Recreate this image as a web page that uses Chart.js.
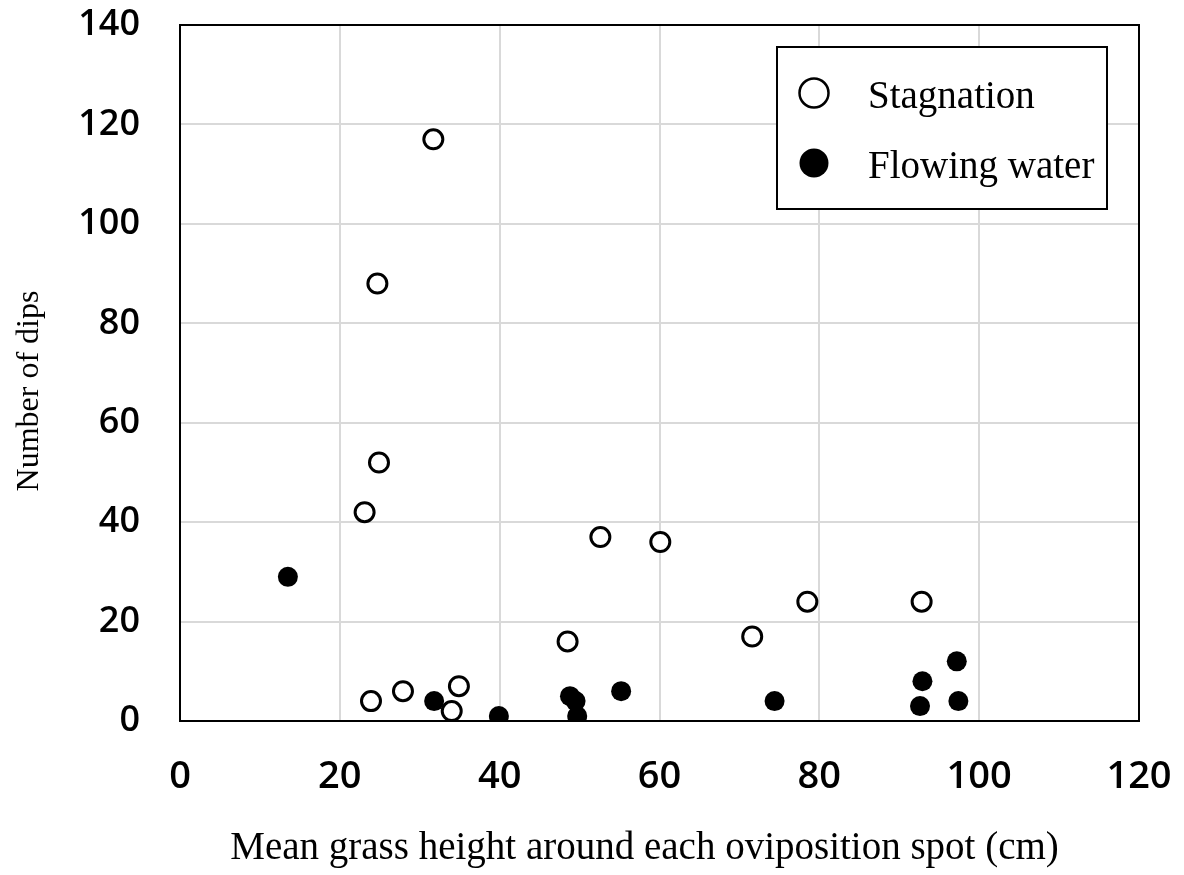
<!DOCTYPE html>
<html>
<head>
<meta charset="utf-8">
<script src="https://cdn.jsdelivr.net/npm/chart.js@4/dist/chart.umd.min.js"></script>
<style>
  html, body { margin: 0; padding: 0; background: #ffffff; }
  #wrap { width: 1184px; height: 875px; position: relative; }
</style>
</head>
<body>
<div id="wrap"><canvas id="c" width="1184" height="875"></canvas></div>
<script>
// ---- data ----
const seriesNames = ["Stagnation", "Flowing water"];
const stagnationX = [31.7, 24.7, 24.9, 23.1, 52.6, 60.1, 78.5, 92.8, 71.6, 48.5, 34.9, 27.9, 23.9, 34.0];
const stagnationY = [117, 88, 52, 42, 37, 36, 24, 24, 17, 16, 7, 6, 4, 2];
const flowingX = [13.5, 97.2, 92.9, 55.2, 48.8, 31.8, 49.5, 74.4, 97.4, 92.6, 39.9, 49.7];
const flowingY = [29, 12, 8, 6, 5, 4, 4, 4, 4, 3, 1, 1];
const xTickValues = [0, 20, 40, 60, 80, 100, 120];
const yTickValues = [0, 20, 40, 60, 80, 100, 120, 140];
const xTitle = "Mean grass height around each oviposition spot (cm)";
const yTitle = "Number of dips";

function toPoints(xs, ys) { return xs.map((x, i) => ({ x: x, y: ys[i] })); }

const serif = "'Liberation Serif', 'Times New Roman', serif";
const sans = "'Open Sans', 'Noto Sans', sans-serif";

// shift an axis title slightly along its axis (library still draws it)
function shiftTitle(scale, dx, dy) {
  if (scale._titleShifted) return;
  scale._titleShifted = true;
  const orig = scale.drawTitle;
  scale.drawTitle = function () {
    const ctx = this.ctx;
    ctx.save();
    ctx.translate(dx, dy);
    orig.call(this);
    ctx.restore();
  };
}

// legend inside plot area with frame, drawn from dataset styles/labels
const boxLegend = {
  id: 'boxLegend',
  afterDraw(chart) {
    const ctx = chart.ctx;
    const a = chart.chartArea;
    const left = a.right - 362, top = a.top + 22, w = 330, h = 162;
    ctx.save();
    ctx.fillStyle = '#ffffff';
    ctx.fillRect(left, top, w, h);
    ctx.strokeStyle = '#000000';
    ctx.lineWidth = 2;
    ctx.strokeRect(left, top, w, h);
    chart.data.datasets.forEach((ds, i) => {
      const cy = top + 46 + i * 70;
      const cx = left + 37;
      ctx.beginPath();
      ctx.arc(cx, cy, 14.5, 0, Math.PI * 2);
      ctx.fillStyle = ds.backgroundColor;
      ctx.fill();
      if (ds.borderWidth) {
        ctx.lineWidth = 2.5;
        ctx.strokeStyle = ds.borderColor;
        ctx.stroke();
      }
      ctx.fillStyle = '#000000';
      ctx.font = "39px " + serif;
      ctx.textAlign = 'left';
      ctx.textBaseline = 'alphabetic';
      ctx.fillText(ds.label, left + 91, cy + 15);
    });
    ctx.restore();
  }
};

// black frame around the plot area (top and right edges)
const frame = {
  id: 'frame',
  afterDatasetsDraw(chart) {
    const ctx = chart.ctx, a = chart.chartArea;
    ctx.save();
    ctx.strokeStyle = '#000000';
    ctx.lineWidth = 2;
    ctx.strokeRect(a.left, a.top, a.right - a.left, a.bottom - a.top);
    ctx.restore();
  }
};

new Chart(document.getElementById('c'), {
  type: 'scatter',
  data: {
    datasets: [
      {
        label: seriesNames[0],
        data: toPoints(stagnationX, stagnationY),
        backgroundColor: '#ffffff',
        borderColor: '#000000',
        borderWidth: 3,
        pointRadius: 9.5,
        pointHoverRadius: 9.5
      },
      {
        label: seriesNames[1],
        data: toPoints(flowingX, flowingY),
        backgroundColor: '#000000',
        borderColor: '#000000',
        borderWidth: 0,
        pointRadius: 10,
        pointHoverRadius: 10
      }
    ]
  },
  options: {
    responsive: false,
    animation: false,
    devicePixelRatio: 1,
    layout: { padding: { top: 25, right: 45, left: 0, bottom: 0 } },
    plugins: {
      legend: { display: false },
      tooltip: { enabled: false }
    },
    scales: {
      x: {
        type: 'linear',
        min: 0, max: 120,
        afterFit(scale) {
          scale.height = 154; scale.paddingLeft = 0; scale.paddingRight = 0;
          shiftTitle(scale, -15, 0);
        },
        afterBuildTicks(scale) { scale.ticks = xTickValues.map(v => ({ value: v })); },
        ticks: {
          padding: 33,
          color: '#000000',
          font: { family: sans, size: 38, weight: '600' },
          maxRotation: 0
        },
        grid: { color: '#d9d9d9', lineWidth: 2, drawTicks: false },
        border: { color: '#000000', width: 2 },
        title: {
          display: true,
          text: xTitle,
          color: '#000000',
          font: { family: serif, size: 39 },
          padding: { top: 0, bottom: 3 }
        }
      },
      y: {
        type: 'linear',
        min: 0, max: 140,
        afterFit(scale) {
          scale.width = 180; scale.paddingTop = 0; scale.paddingBottom = 0;
          shiftTitle(scale, 0, 18);
        },
        afterBuildTicks(scale) { scale.ticks = yTickValues.map(v => ({ value: v })); },
        ticks: {
          padding: 40,
          color: '#000000',
          font: { family: sans, size: 36, weight: '600' }
        },
        grid: { color: '#d9d9d9', lineWidth: 2, drawTicks: false },
        border: { color: '#000000', width: 2 },
        title: {
          display: true,
          text: yTitle,
          color: '#000000',
          font: { family: serif, size: 32 },
          padding: { top: 10, bottom: 0 }
        }
      }
    }
  },
  plugins: [frame, boxLegend]
});
</script>
</body>
</html>
